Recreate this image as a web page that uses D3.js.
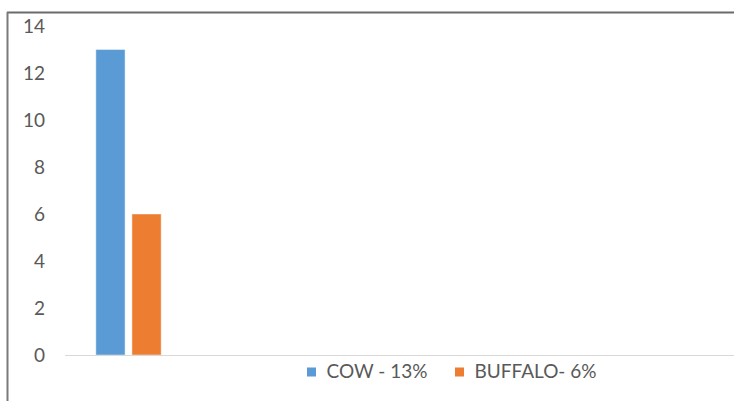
<!DOCTYPE html>
<html>
<head>
<meta charset="utf-8">
<script src="https://cdn.jsdelivr.net/npm/d3@7"></script>
<style>
  html, body { margin: 0; padding: 0; background: #fff; }
  svg { display: block; }
  text { font-family: Lato, "Liberation Sans", sans-serif; fill: #595959; }
</style>
</head>
<body>
<svg id="chart" width="734" height="401"></svg>
<script>
// Livestock share data
const groups = ["share"];
const seriesNames = ["COW", "BUFFALO"];
const seriesValues = [13, 6];
const legendLabels = ["COW - 13%", "BUFFALO- 6%"];
const seriesColors = ["#5B9BD5", "#ED7D31"];
const yTicks = [0, 2, 4, 6, 8, 10, 12, 14];

const W = 734, H = 401;
const svg = d3.select("#chart");

// Frame lines (top and left edges of the chart box)
svg.append("line").attr("x1", 7).attr("x2", W).attr("y1", 12.5).attr("y2", 12.5)
  .attr("stroke", "#6b6b6b").attr("stroke-width", 2);
svg.append("line").attr("x1", 7.5).attr("x2", 7.5).attr("y1", 12).attr("y2", H)
  .attr("stroke", "#7a7a7a").attr("stroke-width", 2);

const plotLeft = 65, plotRight = W, plotTop = 26, plotBottom = 355;

const y = d3.scaleLinear().domain([0, 14]).range([plotBottom, plotTop]);

const x0 = d3.scaleBand().domain(groups).range([plotLeft, plotLeft + 127]);
const x1 = d3.scaleBand().domain(seriesNames)
  .range([0, x0.bandwidth()]).paddingInner(0.19).paddingOuter(0.854);

// Y axis labels only (no axis line, no gridlines)
const yAxis = d3.axisLeft(y).tickValues(yTicks).tickSize(0).tickPadding(0);
const yg = svg.append("g").attr("transform", `translate(45,0)`).call(yAxis);
yg.select(".domain").remove();
yg.selectAll("text").style("font-size", "19px").attr("fill", "#595959")
  .style("font-family", "Lato, 'Liberation Sans', sans-serif").attr("dy", "0.35em");

// Bars
const rows = seriesNames.map((s, i) => ({ group: groups[0], name: s, value: seriesValues[i], color: seriesColors[i] }));
svg.append("g").selectAll("rect").data(rows).join("rect")
  .attr("x", d => x0(d.group) + x1(d.name))
  .attr("width", x1.bandwidth())
  .attr("y", d => y(d.value))
  .attr("height", d => y(0) - y(d.value))
  .attr("fill", d => d.color)
  .attr("stroke", "rgba(255,255,255,0.45)")
  .attr("stroke-width", 1);

// Baseline
svg.append("line").attr("x1", plotLeft).attr("x2", plotRight)
  .attr("y1", y(0) + 0.5).attr("y2", y(0) + 0.5)
  .attr("stroke", "#d9d9d9").attr("stroke-width", 1);

// Legend
const legendX = [307, 455];
const lg = svg.append("g");
legendLabels.forEach((lab, i) => {
  lg.append("rect").attr("x", legendX[i]).attr("y", 367.5).attr("width", 9).attr("height", 9)
    .attr("fill", seriesColors[i]);
  lg.append("text").attr("x", legendX[i] + 19.5).attr("y", 377.5)
    .style("font-size", "19px").text(lab);
});
</script>
</body>
</html>
